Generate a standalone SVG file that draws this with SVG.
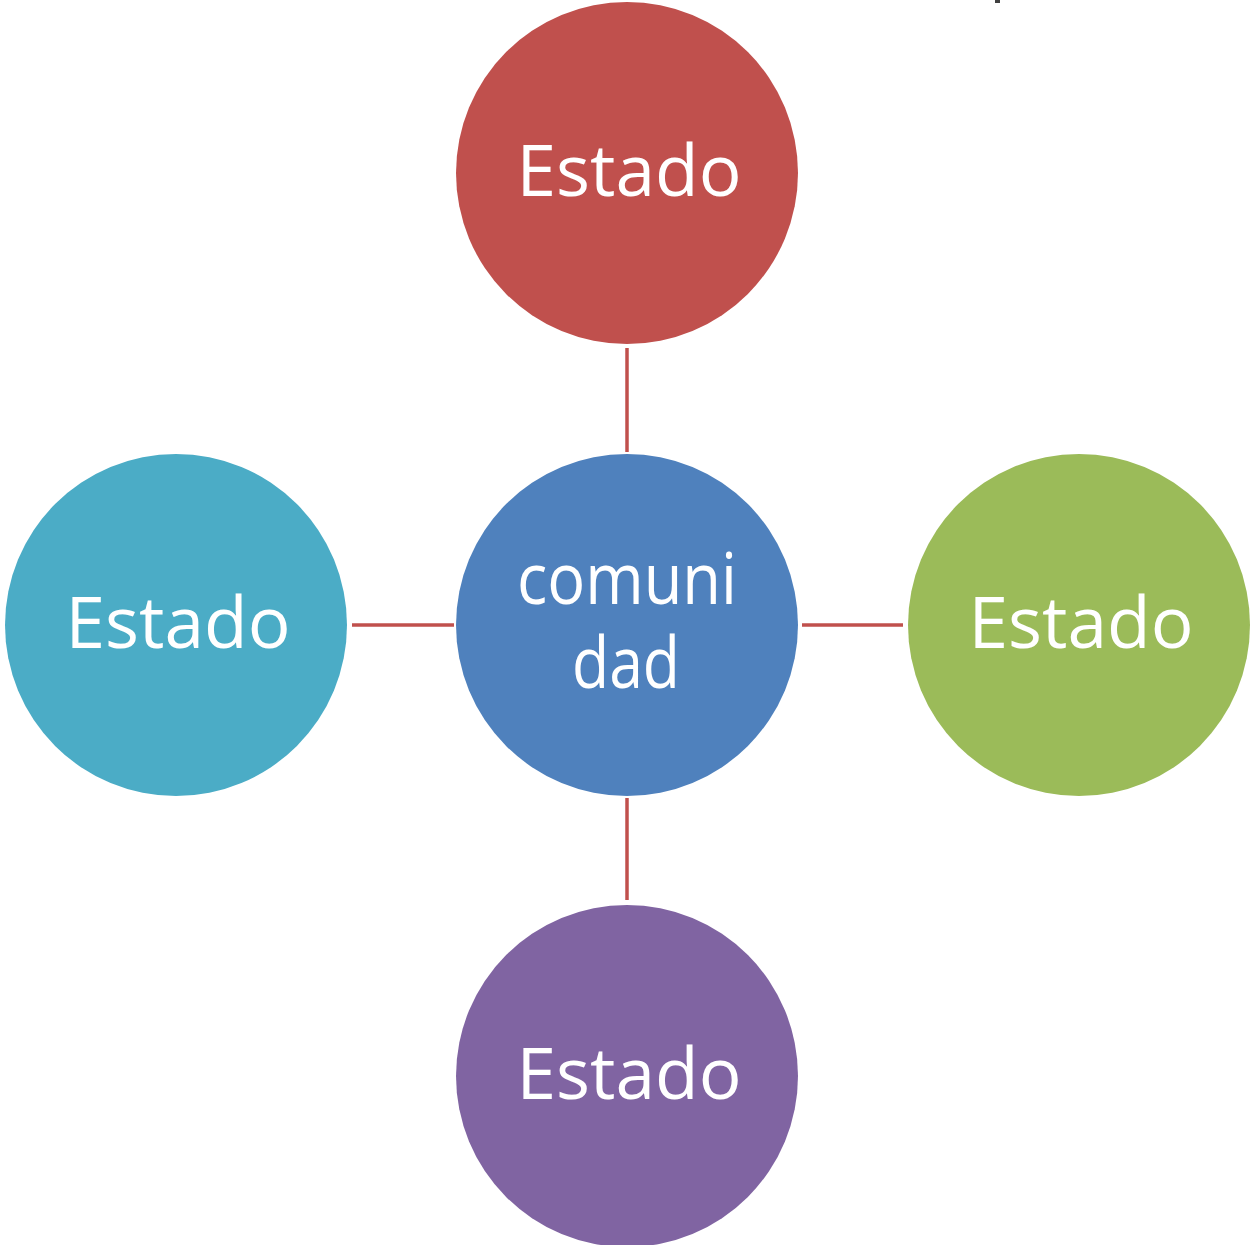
<svg xmlns="http://www.w3.org/2000/svg" width="1250" height="1245" viewBox="0 0 1250 1245">
<style>
.lbl{font-family:"Open Sans","Liberation Sans",sans-serif;font-size:72px;fill:#fff;text-anchor:middle}
.conn{stroke:#C0504D;stroke-width:3.5;fill:none}
</style>
<rect width="1250" height="1245" fill="#fff"/>
<rect x="995" y="0" width="5" height="3" fill="#404040"/>
<g id="connectors">
<line class="conn" x1="627" y1="348" x2="627" y2="452"/>
<line class="conn" x1="352" y1="625" x2="454" y2="625"/>
<line class="conn" x1="802" y1="625" x2="903" y2="625"/>
<line class="conn" x1="627" y1="798" x2="627" y2="900"/>
</g>
<g id="node-top">
<circle cx="627" cy="173" r="171" fill="#C0504D"/>
<text class="lbl" x="629" y="196" textLength="225" lengthAdjust="spacingAndGlyphs">Estado</text>
</g>
<g id="node-center">
<circle cx="627" cy="625" r="171" fill="#4F81BD"/>
<text class="lbl" x="627" y="604" textLength="220" lengthAdjust="spacingAndGlyphs">comuni</text>
<text class="lbl" x="626" y="688" textLength="108" lengthAdjust="spacingAndGlyphs">dad</text>
</g>
<g id="node-left">
<circle cx="176" cy="625" r="171" fill="#4BACC6"/>
<text class="lbl" x="178" y="648" textLength="225" lengthAdjust="spacingAndGlyphs">Estado</text>
</g>
<g id="node-right">
<circle cx="1079" cy="625" r="171" fill="#9BBB59"/>
<text class="lbl" x="1081" y="648" textLength="225" lengthAdjust="spacingAndGlyphs">Estado</text>
</g>
<g id="node-bottom">
<circle cx="627" cy="1076" r="171" fill="#8064A2"/>
<text class="lbl" x="629" y="1099" textLength="225" lengthAdjust="spacingAndGlyphs">Estado</text>
</g>
</svg>
